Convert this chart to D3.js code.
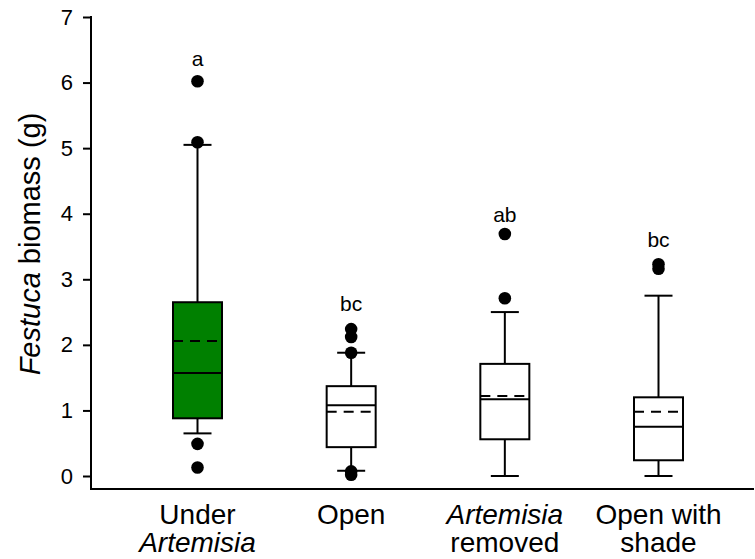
<!DOCTYPE html>
<html>
<head>
<meta charset="utf-8">
<script src="https://cdn.jsdelivr.net/npm/d3@7"></script>
<style>
  html, body { margin: 0; padding: 0; background: #fff; }
  svg text { font-family: "Liberation Sans", Arial, sans-serif; fill: #000; }
</style>
</head>
<body>
<svg id="chart" width="755" height="559"></svg>
<script>
// Treatments and their two-line axis labels
const categories = ["under", "open", "removed", "shade"];
const labelLine1 = ["Under", "Open", "Artemisia", "Open with"];
const labelLine1Italic = [false, false, true, false];
const labelLine2 = ["Artemisia", "", "removed", "shade"];
const labelLine2Italic = [true, false, false, false];

// Box statistics (g)
const whiskerLow  = [0.65, 0.08, 0.00, 0.00];
const q1          = [0.88, 0.44, 0.56, 0.24];
const median      = [1.57, 1.08, 1.17, 0.75];
const mean        = [2.06, 0.98, 1.22, 0.98];
const q3          = [2.65, 1.37, 1.71, 1.20];
const whiskerHigh = [5.05, 1.88, 2.50, 2.75];
const outliers = [
  [6.02, 5.09, 0.49, 0.13],
  [2.24, 2.12, 1.88, 0.07, 0.02],
  [3.69, 2.71],
  [3.23, 3.16]
];
const groupLetters = ["a", "bc", "ab", "bc"];
const letterValue  = [6.25, 2.52, 3.88, 3.50];

const yTicks = [0, 1, 2, 3, 4, 5, 6, 7];
const boxFill = ["#008000", "#ffffff", "#ffffff", "#ffffff"];

const svg = d3.select("#chart");
const axisX = 91, axisBottom = 489, axisRight = 754;

const y = d3.scaleLinear().domain([0, 7]).range([476, 17]);
const x = d3.scalePoint().domain(categories).range([197.5, 658.5]);

const boxW = 49, capW = 28;

// Axes
svg.append("line").attr("x1", axisX).attr("x2", axisX)
  .attr("y1", y(7) - 1).attr("y2", axisBottom)
  .attr("stroke", "#000").attr("stroke-width", 2);
svg.append("line").attr("x1", axisX - 1).attr("x2", axisRight)
  .attr("y1", axisBottom).attr("y2", axisBottom)
  .attr("stroke", "#000").attr("stroke-width", 2);

const yAxis = d3.axisLeft(y).tickValues(yTicks).tickSize(8).tickPadding(10)
  .tickFormat(d3.format("d"));
const gy = svg.append("g").attr("transform", `translate(${axisX},0)`).call(yAxis);
gy.select(".domain").remove();
gy.selectAll(".tick line").attr("stroke", "#000").attr("stroke-width", 2);
gy.selectAll(".tick text").attr("font-size", 22).attr("fill", "#000")
  .style("font-family", "'Liberation Sans', Arial, sans-serif");

// Y axis title
const title = svg.append("text")
  .attr("transform", `translate(40,244) rotate(-90)`)
  .attr("text-anchor", "middle").attr("font-size", 29);
title.append("tspan").attr("font-style", "italic").text("Festuca");
title.append("tspan").text(" biomass (g)");

// X tick labels
const xl = svg.append("g");
categories.forEach((c, i) => {
  xl.append("text").attr("x", x(c)).attr("y", 524)
    .attr("text-anchor", "middle").attr("font-size", 28)
    .attr("font-style", labelLine1Italic[i] ? "italic" : "normal")
    .text(labelLine1[i]);
  if (labelLine2[i]) {
    xl.append("text").attr("x", x(c)).attr("y", 552)
      .attr("text-anchor", "middle").attr("font-size", 28)
      .attr("font-style", labelLine2Italic[i] ? "italic" : "normal")
      .text(labelLine2[i]);
  }
});

// Boxes
const g = svg.append("g");
categories.forEach((c, i) => {
  const cx = x(c);
  const line = (x1, x2, y1, y2, dash) => g.append("line")
    .attr("x1", x1).attr("x2", x2).attr("y1", y1).attr("y2", y2)
    .attr("stroke", "#000").attr("stroke-width", 2)
    .attr("stroke-dasharray", dash || null);
  // whiskers
  line(cx, cx, y(q3[i]), y(whiskerHigh[i]));
  line(cx, cx, y(q1[i]), y(whiskerLow[i]));
  line(cx - capW / 2, cx + capW / 2, y(whiskerHigh[i]), y(whiskerHigh[i]));
  line(cx - capW / 2, cx + capW / 2, y(whiskerLow[i]), y(whiskerLow[i]));
  // box
  g.append("rect").attr("x", cx - boxW / 2).attr("width", boxW)
    .attr("y", y(q3[i])).attr("height", y(q1[i]) - y(q3[i]))
    .attr("fill", boxFill[i]).attr("stroke", "#000").attr("stroke-width", 2);
  // mean (dashed) and median
  line(cx - boxW / 2, cx + boxW / 2, y(mean[i]), y(mean[i]), "10,7");
  line(cx - boxW / 2, cx + boxW / 2, y(median[i]), y(median[i]));
  // outliers
  outliers[i].forEach(v => {
    g.append("circle").attr("cx", cx).attr("cy", y(v)).attr("r", 6.3).attr("fill", "#000");
  });
  // significance letters
  g.append("text").attr("x", cx).attr("y", y(letterValue[i]))
    .attr("text-anchor", "middle").attr("font-size", 21).text(groupLetters[i]);
});
</script>
</body>
</html>
